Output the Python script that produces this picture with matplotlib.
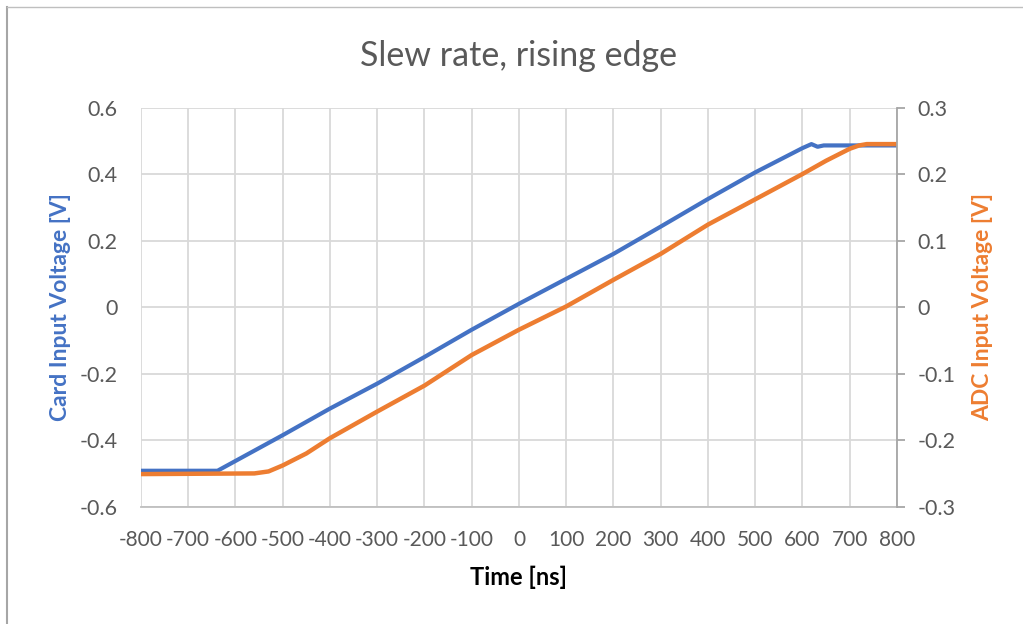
import matplotlib.pyplot as plt
from matplotlib.lines import Line2D

# --------------------------------------------------
# Values (time in ns, volts)
# --------------------------------------------------
card_t = [-800, -638, -500, -400, -300, -200, -100, 0, 100, 200, 300,
          400, 500, 600, 619, 632, 645, 800]
card_v = [-0.492, -0.492, -0.385, -0.305, -0.23, -0.15, -0.068, 0.01,
          0.085, 0.16, 0.242, 0.325, 0.405, 0.478, 0.490, 0.482, 0.486, 0.486]

adc_t = [-800, -560, -530, -500, -450, -400, -300, -200, -100, 0, 100, 200,
         300, 400, 500, 600, 650, 700, 720, 736, 800]
adc_v = [-0.251, -0.250, -0.247, -0.238, -0.220, -0.197, -0.157, -0.118,
         -0.072, -0.034, 0.001, 0.041, 0.080, 0.124, 0.162, 0.200, 0.220,
         0.238, 0.243, 0.245, 0.245]

x_ticks = list(range(-800, 801, 100))
left_ticks = [-0.6, -0.4, -0.2, 0, 0.2, 0.4, 0.6]
right_ticks = [-0.3, -0.2, -0.1, 0, 0.1, 0.2, 0.3]

BLUE = "#4472C4"
ORANGE = "#ED7D31"
GRID = "#D9D9D9"
TXT = "#595959"

plt.rcParams["font.family"] = ["Lato", "DejaVu Sans"]

fig = plt.figure(figsize=(10.23, 6.24), dpi=100)
ax = fig.add_axes([0.1378, 0.188, 0.739, 0.6397])
ax2 = ax.twinx()

# --------------------------------------------------
# Series
# --------------------------------------------------
ax.plot(card_t, card_v, color=BLUE, linewidth=3.0, solid_capstyle="butt")
ax2.plot(adc_t, adc_v, color=ORANGE, linewidth=3.2, solid_capstyle="butt")

ax.set_xlim(-800, 800)
ax.set_ylim(-0.6, 0.6)
ax2.set_ylim(-0.3, 0.3)

ax.set_xticks(x_ticks)
ax.set_xticklabels([str(v) for v in x_ticks])
ax.set_yticks(left_ticks)
ax.set_yticklabels(["0" if v == 0 else f"{v:g}" for v in left_ticks])
ax2.set_yticks(right_ticks)
ax2.set_yticklabels(["0" if v == 0 else f"{v:g}" for v in right_ticks])

ax.grid(True, color=GRID, linewidth=1.3)
ax.set_axisbelow(True)

for s in ["top", "left", "right"]:
    ax.spines[s].set_visible(False)
    ax2.spines[s].set_visible(False)
ax.spines["bottom"].set_color("#BFBFBF")
ax.spines["bottom"].set_linewidth(1.3)
ax2.spines["bottom"].set_visible(False)
ax2.spines["right"].set_visible(True)
ax2.spines["right"].set_color("#A6A6A6")
ax2.spines["right"].set_linewidth(1.3)

ax.tick_params(axis="x", length=0, pad=17, labelsize=15, labelcolor=TXT)
ax.tick_params(axis="y", length=0, pad=17, labelsize=15.5, labelcolor=TXT)
ax2.tick_params(axis="y", length=6, width=1.3, color="#A6A6A6", pad=9,
                labelsize=15.5, labelcolor=TXT, direction="out")

# --------------------------------------------------
# Labels
# --------------------------------------------------
ax.set_title("Slew rate, rising edge", fontsize=24.5, color=TXT, pad=30)
ax.set_xlabel("Time [ns]", fontsize=17, fontweight="bold", color="black",
              labelpad=11)
ax.set_ylabel("Card Input Voltage [V]", fontsize=16.5, fontweight="bold",
              color=BLUE, labelpad=6)
ax2.set_ylabel("ADC Input Voltage [V]", fontsize=16.5, fontweight="bold",
               color=ORANGE, labelpad=12)

# chart frame (left and top edges show in the crop)
fig.add_artist(Line2D([0.007, 0.007], [0, 0.989], transform=fig.transFigure,
                      color="#A6A6A6", linewidth=1.5))
fig.add_artist(Line2D([0.007, 1.0], [0.989, 0.989], transform=fig.transFigure,
                      color="#BFBFBF", linewidth=1.0))

plt.savefig("out.png", dpi=100)
